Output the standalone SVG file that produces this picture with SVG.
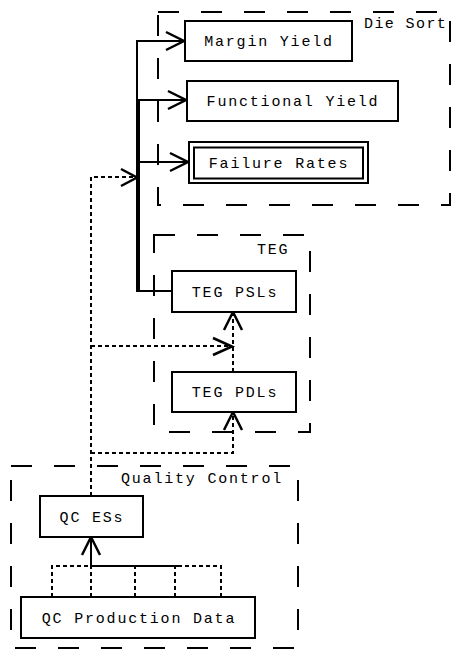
<svg xmlns="http://www.w3.org/2000/svg" width="451" height="660" viewBox="0 0 451 660">
<style>
  .bg{fill:#fff}
  .cluster{fill:none;stroke:#000;stroke-width:2;stroke-dasharray:21,22}
  .box{fill:#fff;stroke:#000;stroke-width:2}
  .t{font-family:"Liberation Mono","DejaVu Sans Mono",monospace;font-size:15px;letter-spacing:1.8px;fill:#000}
  .tc{text-anchor:middle}
  .e{fill:none;stroke:#000;stroke-width:2}
  .d{fill:none;stroke:#000;stroke-width:2;stroke-dasharray:4,3}
  .ah{fill:none;stroke:#000;stroke-width:2.5}
</style>
<rect class="bg" x="0" y="0" width="451" height="660"/>
<g id="cluster_diesort">
  <rect class="cluster" x="158" y="12" width="292" height="193"/>
  <text class="t" x="364" y="28" style="letter-spacing:1.4px">Die Sort</text>
</g>
<g id="cluster_teg">
  <rect class="cluster" x="154" y="235" width="156" height="197"/>
  <text class="t" x="257" y="254">TEG</text>
</g>
<g id="cluster_qc">
  <rect class="cluster" x="11" y="466" width="287" height="182"/>
  <text class="t" x="121" y="483">Quality Control</text>
</g>
<g id="connectors">
  <!-- TEG PSLs to Die Sort nodes -->
  <path class="e" d="M172,291 H137 V41 H184"/>
  <path class="e" d="M172,291 H139 V100 H186"/>
  <path class="e" d="M172,291 H139 V162 H188"/>
  <path class="ah" d="M166,32 L184,41 L166,50"/>
  <path class="ah" d="M168,91 L186,100 L168,109"/>
  <path class="ah" d="M170,153 L188,162 L170,171"/>
  <!-- QC ESs dotted edges -->
  <path class="d" d="M91,496 V177 H136"/>
  <path class="ah" d="M121,169 L137,177.5 L121,186"/>
  <path class="d" d="M91,346 H232"/>
  <path class="ah" d="M213,338 L232,346.5 L213,355"/>
  <path class="d" d="M91,453 H233 V413"/>
  <path class="ah" d="M224,430 L233,412 L242,430"/>
  <!-- PDLs to PSLs -->
  <path class="d" d="M233,372 V313"/>
  <path class="ah" d="M224,330 L233,312 L242,330"/>
  <!-- QC Production Data to QC ESs -->
  <path class="d" d="M52,597 V566 H91"/>
  <path class="d" d="M91,597 V566"/>
  <path class="d" d="M135,597 V566"/>
  <path class="d" d="M175,597 V566"/>
  <path class="d" d="M221,597 V566 H178"/>
  <path class="e" d="M91,566 H178"/>
  <path class="e" d="M91,566 V538"/>
  <path class="ah" d="M82,555 L91,537 L100,555"/>
</g>
<g id="node_margin_yield">
  <rect class="box" x="185" y="21" width="167" height="40"/>
  <text class="t tc" x="269" y="46">Margin Yield</text>
</g>
<g id="node_functional_yield">
  <rect class="box" x="187" y="81" width="211" height="40"/>
  <text class="t tc" x="293" y="106">Functional Yield</text>
</g>
<g id="node_failure_rates">
  <rect class="box" x="189" y="142" width="179" height="41"/>
  <rect class="box" x="194" y="147.5" width="169" height="31"/>
  <text class="t tc" x="279" y="167.5">Failure Rates</text>
</g>
<g id="node_teg_psls">
  <rect class="box" x="172" y="271" width="124" height="41"/>
  <text class="t tc" x="235" y="296.5">TEG PSLs</text>
</g>
<g id="node_teg_pdls">
  <rect class="box" x="172" y="372" width="124" height="40"/>
  <text class="t tc" x="235" y="397">TEG PDLs</text>
</g>
<g id="node_qc_ess">
  <rect class="box" x="40" y="496" width="103" height="41"/>
  <text class="t tc" x="92" y="521.5">QC ESs</text>
</g>
<g id="node_qc_production_data">
  <rect class="box" x="21" y="597" width="234" height="41"/>
  <text class="t tc" x="139" y="622.5">QC Production Data</text>
</g>
</svg>
